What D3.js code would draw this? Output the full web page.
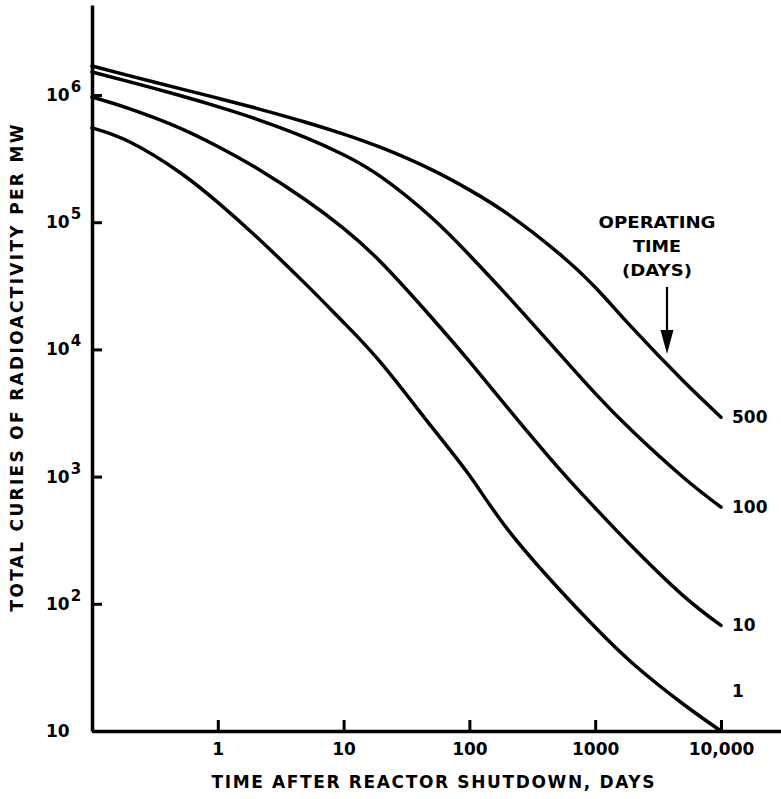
<!DOCTYPE html>
<html>
<head>
<meta charset="utf-8">
<script src="https://cdn.jsdelivr.net/npm/d3@7"></script>
<style>
  html, body { margin: 0; padding: 0; background: #fff; }
  svg { display: block; }
  text { font-family: "DejaVu Sans", "Liberation Sans", sans-serif; fill: #000; font-weight: bold; }
</style>
</head>
<body>
<svg id="chart" width="781" height="799"></svg>
<script>
// ---- data ----
const days = [0.1, 0.2, 0.5, 1, 2, 5, 10, 20, 50, 100, 200, 500, 1000, 2000, 5000, 10000];
const curies500 = [1.69e6, 1.413e6, 1.122e6, 9.44e5, 7.89e5, 6.11e5, 4.93e5, 3.85e5, 2.59e5, 1.795e5, 1.167e5, 5.82e4, 3.08e4, 1.455e4, 5.66e3, 2.93e3];
const curies100 = [1.517e6, 1.268e6, 9.91e5, 8.11e5, 6.5e5, 4.63e5, 3.39e5, 2.26e5, 1.089e5, 5.52e4, 2.65e4, 9.66e3, 4.51e3, 2.25e3, 989, 575];
const curies10  = [9.64e5, 7.78e5, 5.5e5, 3.94e5, 2.69e5, 1.496e5, 8.95e4, 4.8e4, 1.782e4, 8.04e3, 3.5e3, 1.197e3, 566, 277, 116, 67.6];
const curies1   = [5.51e5, 4.27e5, 2.46e5, 1.432e5, 7.78e4, 3.26e4, 1.63e4, 7.76e3, 2.47e3, 1.023e3, 388, 135, 65.3, 33.8, 16.3, 10];
const seriesNames = ["500", "100", "10", "1"];
const xTickValues = [1, 10, 100, 1000, 10000];
const xTickLabels = ["1", "10", "100", "1000", "10,000"];
const yTickValues = [10, 1e2, 1e3, 1e4, 1e5, 1e6];
const yTickExponents = ["", "2", "3", "4", "5", "6"];
const xTitle = "TIME AFTER REACTOR SHUTDOWN, DAYS";
const yTitle = "TOTAL CURIES OF RADIOACTIVITY PER MW";
const noteLines = ["OPERATING", "TIME", "(DAYS)"];

// ---- layout ----
const svg = d3.select("#chart");
const x = d3.scaleLog().domain([0.1, 30000]).range([92, 781]);
const y = d3.scaleLog().domain([10, 5.1e6]).range([731, 5]);

const series = [curies500, curies100, curies10, curies1].map((vals, i) => ({
  name: seriesNames[i],
  points: days.map((d, j) => [d, vals[j]])
}));

// axes
const xAxis = d3.axisBottom(x)
  .tickValues(xTickValues)
  .tickFormat((d, i) => xTickLabels[i])
  .tickSizeInner(-11).tickSizeOuter(0);
const gx = svg.append("g").attr("transform", "translate(0,731)").call(xAxis);
gx.attr("font-family", null);
gx.select(".domain").attr("stroke", "#000").attr("stroke-width", 3.5);
gx.selectAll(".tick line").attr("stroke", "#000").attr("stroke-width", 3);
gx.selectAll(".tick text").attr("font-size", 17).attr("y", 12).attr("dy", "0.71em");

const yAxis = d3.axisLeft(y)
  .tickValues(yTickValues)
  .tickFormat(() => "")
  .tickSizeInner(-10).tickSizeOuter(0);
const gy = svg.append("g").attr("transform", "translate(92,0)").call(yAxis);
gy.select(".domain").attr("stroke", "#000").attr("stroke-width", 3.5);
gy.selectAll(".tick line").attr("stroke", "#000").attr("stroke-width", 3);
gy.selectAll(".tick text").remove();

// y tick labels with superscripts
const yl = svg.append("g");
yTickValues.forEach((v, i) => {
  const t = yl.append("text")
    .attr("x", 46).attr("y", y(v) + 6)
    .attr("font-size", 17);
  t.append("tspan").text("10");
  if (yTickExponents[i]) {
    t.append("tspan").attr("dy", -9).attr("dx", 1).attr("font-size", 15).text(yTickExponents[i]);
  }
});

// titles
svg.append("text")
  .attr("x", 433).attr("y", 788)
  .attr("text-anchor", "middle")
  .attr("font-size", 17)
  .attr("textLength", 443).attr("lengthAdjust", "spacing")
  .text(xTitle);

svg.append("text")
  .attr("transform", "translate(23,368) rotate(-90)")
  .attr("text-anchor", "middle")
  .attr("font-size", 17)
  .attr("textLength", 487).attr("lengthAdjust", "spacing")
  .text(yTitle);

// curves
const line = d3.line()
  .x(d => x(d[0]))
  .y(d => y(d[1]))
  .curve(d3.curveNatural);

svg.append("g").selectAll("path")
  .data(series)
  .join("path")
  .attr("d", d => line(d.points))
  .attr("fill", "none")
  .attr("stroke", "#000")
  .attr("stroke-width", 3.5)
  .attr("stroke-linecap", "round");

// end labels
svg.append("g").selectAll("text")
  .data(series)
  .join("text")
  .attr("x", d => x(d.points[d.points.length - 1][0]) + 11)
  .attr("y", d => {
    const yy = y(d.points[d.points.length - 1][1]);
    return d.name === "1" ? yy - 34 : yy + 6;
  })
  .attr("font-size", 17)
  .text(d => d.name);

// operating time note with arrow
const noteWidths = [117, 48, 70];
noteLines.forEach((s, i) => {
  svg.append("text")
    .attr("x", 657).attr("y", 228 + i * 24)
    .attr("text-anchor", "middle")
    .attr("font-size", 16)
    .attr("textLength", noteWidths[i]).attr("lengthAdjust", "spacingAndGlyphs")
    .text(s);
});
svg.append("line")
  .attr("x1", 667).attr("x2", 667).attr("y1", 287).attr("y2", 340)
  .attr("stroke", "#000").attr("stroke-width", 2.2);
svg.append("path")
  .attr("d", "M660.5,330 L673.5,330 L667,354 Z")
  .attr("fill", "#000");
</script>
</body>
</html>
